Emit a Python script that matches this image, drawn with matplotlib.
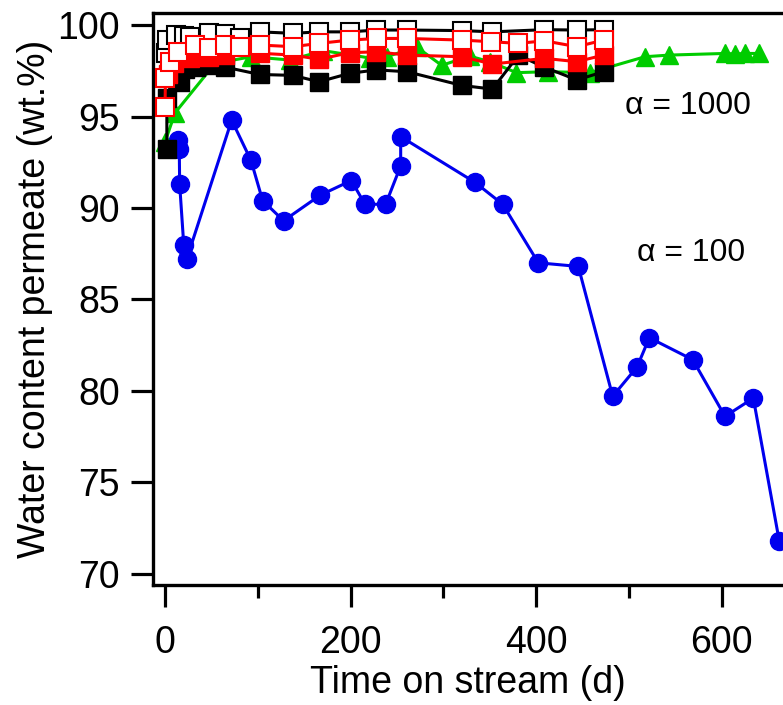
import matplotlib
matplotlib.use('Agg')
import matplotlib.pyplot as plt
from matplotlib.ticker import MultipleLocator

plt.rcParams['font.family'] = ['Liberation Sans', 'DejaVu Sans']

# alpha = 100 membrane (blue circles)
t_blue = [13.7, 15.4, 15.8, 20.2, 23.4, 71.9, 92.7, 105.3, 127.9, 167.4, 200.9, 215.6,
          237.9, 254.1, 254.1, 334.2, 364.1, 402.5, 445.6, 482.7, 508.9, 522.2, 569.0,
          603.8, 634.3, 662.2]
w_blue = [93.7, 93.2, 91.3, 88.0, 87.2, 94.8, 92.6, 90.4, 89.3, 90.7, 91.5, 90.2,
          90.2, 92.3, 93.9, 91.4, 90.2, 87.0, 86.8, 79.7, 81.3, 82.9, 81.7,
          78.6, 79.6, 71.8]

# alpha = 1000 membranes
t_green = [0, 10.8, 53.9, 92.9, 134.8, 170.7, 221.0, 239.0, 271.3, 298.3, 328.6, 350.1,
           378.9, 413.0, 458.2, 517.5, 543.7, 604.0, 614.8, 625.6, 639.9]
w_green = [93.6, 95.2, 97.9, 98.27, 98.09, 98.6, 98.2, 98.27, 98.8, 97.8, 98.3, 98.0,
           97.4, 97.45, 97.4, 98.27, 98.36, 98.45, 98.42, 98.45, 98.45]

t_blk_f = [2, 2, 9, 16, 22, 33, 47, 65, 102, 138, 166, 199, 228, 261, 320, 353, 381,
           409, 444, 473]
w_blk_f = [93.2, 96.0, 97.2, 96.9, 97.6, 97.7, 97.8, 97.7, 97.3, 97.25, 96.9, 97.36,
           97.55, 97.45, 96.7, 96.5, 98.35, 97.7, 97.0, 97.45]

t_red_f = [3, 10, 27, 47, 65, 102, 138, 166, 199, 228, 261, 320, 353, 409, 444, 473]
w_red_f = [97.3, 97.9, 98.18, 98.27, 98.36, 98.46, 98.36, 98.13, 98.49, 98.54, 98.36,
           98.27, 97.87, 98.18, 98.0, 98.36]

t_blk_o = [1, 2, 12, 20, 27, 47, 65, 81, 102, 138, 166, 199, 228, 261, 320, 353, 409,
           444, 473]
w_blk_o = [98.5, 99.2, 99.45, 99.4, 99.36, 99.58, 99.5, 99.27, 99.63, 99.55, 99.63,
           99.63, 99.73, 99.73, 99.7, 99.63, 99.75, 99.73, 99.75]

t_red_o = [0, 0.5, 5, 14, 32, 47, 65, 81, 102, 138, 166, 199, 229, 261, 320, 352, 381,
           409, 444, 473]
w_red_o = [95.5, 97.1, 98.0, 98.54, 98.91, 98.73, 98.91, 98.82, 98.91, 98.82, 99.0,
           99.18, 99.27, 99.27, 99.18, 99.09, 99.0, 99.14, 98.82, 99.18]

fig = plt.figure(figsize=(7.83, 7.05), dpi=100)
ax = fig.add_axes([0.1958, 0.170, 0.8042, 0.811])

ax.plot(t_blue, w_blue, '-o', color='#0000ee', lw=2.2, ms=13, zorder=2)
ax.plot(t_green, w_green, '-^', color='#00cc00', lw=2.2, ms=13.5, zorder=3)
ax.plot(t_blk_f, w_blk_f, '-s', color='black', lw=2.2, ms=12.5, zorder=4)
ax.plot(t_red_f, w_red_f, '-s', color='#ff0000', lw=2.2, ms=12.5, zorder=5)
ax.plot(t_blk_o, w_blk_o, '-s', color='black', mfc='white', mec='black', mew=1.5,
        lw=2.2, ms=12.5, zorder=6)
ax.plot(t_red_o, w_red_o, '-s', color='#ff0000', mfc='white', mec='#ff0000', mew=1.5,
        lw=2.2, ms=12.5, zorder=7)

ax.text(496, 95.57, '\u03b1 = 1000', fontsize=23, ha='left', va='center')
ax.text(509, 87.53, '\u03b1 = 100', fontsize=23, ha='left', va='center')

ax.set_xlim(-12.6, 666.3)
ax.set_ylim(69.37, 100.64)
ax.xaxis.set_major_locator(MultipleLocator(200))
ax.xaxis.set_minor_locator(MultipleLocator(100))
ax.yaxis.set_major_locator(MultipleLocator(5))
ax.tick_params(axis='both', which='major', direction='out', length=15.5, width=2.3,
               labelsize=27, pad=8.5)
ax.tick_params(axis='x', which='major', pad=13)
ax.tick_params(axis='x', which='minor', direction='out', length=9, width=2.3)
ax.tick_params(axis='both', which='both', top=False, right=False)

for side in ['left', 'top', 'bottom']:
    ax.spines[side].set_linewidth(2.4)
ax.spines['right'].set_visible(False)

ax.set_xlabel('Time on stream (d)', fontsize=27, labelpad=3)
ax.set_ylabel('Water content permeate (wt.%)', fontsize=27, labelpad=3)

plt.savefig('out.png', dpi=100)
